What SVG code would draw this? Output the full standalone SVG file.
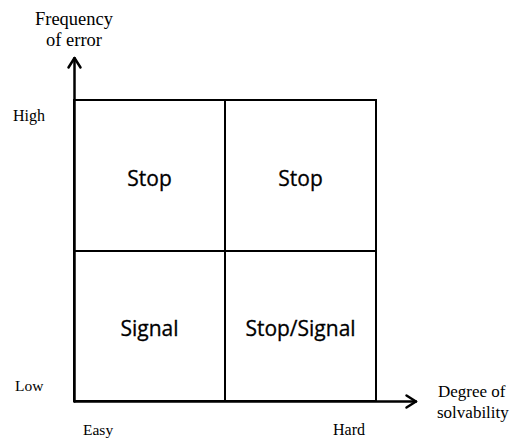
<svg xmlns="http://www.w3.org/2000/svg" width="517" height="444" viewBox="0 0 517 444">
  <style>
    .cell { fill: #ffffff; stroke: #000000; stroke-width: 2; }
    .axis { fill: none; stroke: #000000; stroke-width: 2.5; stroke-linecap: round; stroke-linejoin: round; }
    .label { font-family: "Liberation Serif", "Times New Roman", serif; fill: #000000; }
    .cellText { font-family: "Open Sans", "Noto Sans", sans-serif; font-size: 21px; fill: #000000; text-anchor: middle; stroke: #000000; stroke-width: 0.3; }
  </style>
  <rect width="517" height="444" fill="#ffffff"/>

  <!-- quadrant cells -->
  <g id="cell-high-easy">
    <rect class="cell" x="74" y="100" width="151" height="151"/>
    <text class="cellText" x="149.5" y="186">Stop</text>
  </g>
  <g id="cell-high-hard">
    <rect class="cell" x="225" y="100" width="151" height="151"/>
    <text class="cellText" x="300.5" y="186">Stop</text>
  </g>
  <g id="cell-low-easy">
    <rect class="cell" x="74" y="251" width="151" height="150"/>
    <text class="cellText" x="149.5" y="336">Signal</text>
  </g>
  <g id="cell-low-hard">
    <rect class="cell" x="225" y="251" width="151" height="150"/>
    <text class="cellText" x="300.5" y="336">Stop/Signal</text>
  </g>

  <!-- axes -->
  <g id="connectors">
    <path class="axis" d="M74.5 401.5 V58"/>
    <path class="axis" d="M68.5 67.5 L74.5 58 L80.5 67.5"/>
    <path class="axis" d="M74.5 401.5 H416"/>
    <path class="axis" d="M406.5 395.5 L416 401.5 L406.5 407.5"/>
  </g>

  <!-- axis titles and tick labels -->
  <g id="y-axis-title">
    <text class="label" x="74" y="25" font-size="18.5" text-anchor="middle">Frequency</text>
    <text class="label" x="74" y="46" font-size="18.5" text-anchor="middle">of error</text>
  </g>
  <g id="x-axis-title">
    <text class="label" x="438" y="397" font-size="17">Degree of</text>
    <text class="label" x="437" y="418" font-size="17">solvability</text>
  </g>
  <g id="tick-labels">
    <text class="label" x="13" y="121" font-size="16">High</text>
    <text class="label" x="15" y="391" font-size="15.5">Low</text>
    <text class="label" x="83" y="435" font-size="15.5">Easy</text>
    <text class="label" x="333" y="435" font-size="16">Hard</text>
  </g>
</svg>
